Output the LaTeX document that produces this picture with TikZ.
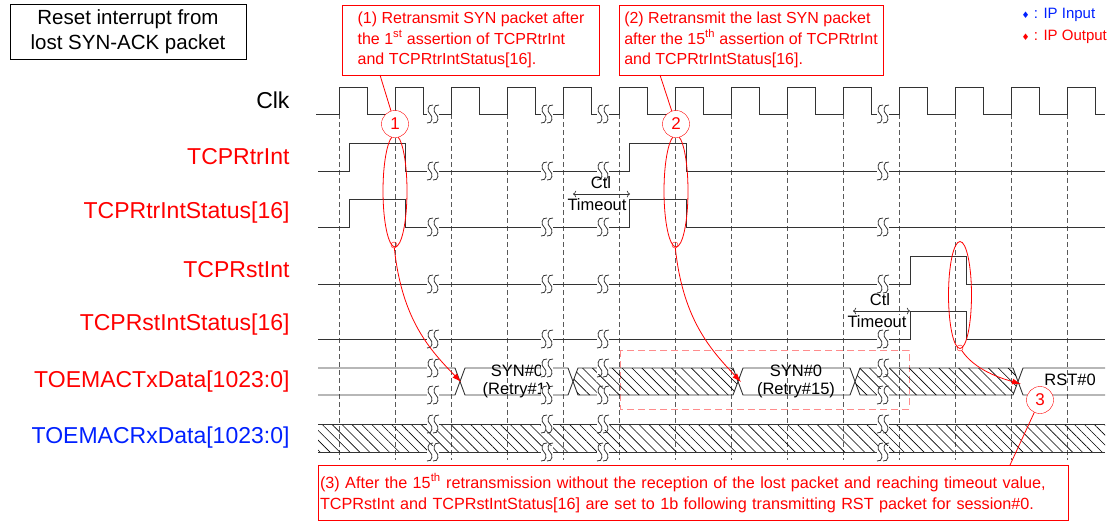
\documentclass[tikz,border=0pt]{standalone}
\usepackage{fontspec}
\setmainfont{Liberation Sans}
\newfontfamily\symfont{DejaVu Sans}
\usetikzlibrary{shapes.geometric,patterns.meta,arrows.meta}
\definecolor{sigred}{RGB}{255,0,0}
\definecolor{sigblue}{RGB}{0,32,255}
\tikzset{
  siglabel/.style={anchor=east,font=\fontsize{23}{25}\selectfont},
  wave/.style={draw=black!80,line width=0.9pt},
  guide/.style={draw=black!65,dashed,dash pattern=on 5pt off 3pt,line width=0.8pt},
  hatch/.style={pattern={Lines[angle=-45,distance=7pt,line width=0.6pt]}},
  callout/.style={draw=sigred,text=sigred,align=left,inner sep=5pt,font=\fontsize{16}{20.5}\selectfont},
  stepmark/.style={draw=sigred,circle,minimum size=27pt,inner sep=0pt,text=sigred,font=\fontsize{17}{17}\selectfont},
  ring/.style={draw=sigred,ellipse,inner sep=0pt,line width=0.8pt},
  dot/.style={draw=sigred,circle,minimum size=6pt,inner sep=0pt},
  annot/.style={draw=sigred,line width=0.8pt},
  bustext/.style={font=\fontsize{16.5}{18}\selectfont,align=center},
  brk/.pic={
    \fill[white] (-6,-6) rectangle (6,6);
    \foreach \o in {-3,3}
      \draw[black!80,line width=0.8pt] (\o+3,-9) .. controls (\o-3,-10) and (\o-3,-2) .. (\o,0)
        .. controls (\o+3,2) and (\o+3,10) .. (\o-3,9);
  }
}
\begin{document}
\begin{tikzpicture}[x=1pt,y=-1pt]
  \useasboundingbox (0,0) rectangle (1108,528);

  % title and legend
  \node[draw,align=center,inner sep=4pt,font=\fontsize{20.5}{25}\selectfont,minimum width=236pt,minimum height=55pt]
    (title) at (128,32) {Reset interrupt from\\lost SYN-ACK packet};
  \node[anchor=west,text=sigblue,font=\fontsize{15}{17}\selectfont] (legin) at (1018,15) {{\symfont\small ♦} : IP Input};
  \node[anchor=west,text=sigred,font=\fontsize{15}{17}\selectfont] (legout) at (1018,37) {{\symfont\small ♦} : IP Output};

  % signal names
  \node[siglabel] (clk) at (293,100) {Clk};
  \node[siglabel,text=sigred] (rtr) at (293,157) {TCPRtrInt};
  \node[siglabel,text=sigred] (rtrst) at (293,213) {TCPRtrIntStatus[16]};
  \node[siglabel,text=sigred] (rst) at (293,270) {TCPRstInt};
  \node[siglabel,text=sigred] (rstst) at (293,325) {TCPRstIntStatus[16]};
  \node[siglabel,text=sigred] (tx) at (293,382) {TOEMACTxData[1023:0]};
  \node[siglabel,text=sigblue] (rx) at (293,438) {TOEMACRxData[1023:0]};

  % guides on rising edges
  \foreach \k in {0,...,13}
    \draw[guide] (339+56*\k,114) -- (339+56*\k,460);

  % pink window
  \draw[draw=sigred!45,dashed,dash pattern=on 7pt off 4pt,line width=0.9pt] (620,350) rectangle (909,409);

  % clock
  \draw[wave] (316,114) \foreach \k in {0,...,13} {
      -- (339+56*\k,114) -- (339+56*\k,87) -- (367+56*\k,87) -- (367+56*\k,114) } -- (1105,114);

  % single-bit signals
  \draw[wave] (318,171) -- (349,171) -- (349,143) -- (405,143) -- (405,171) -- (629,171)
    -- (629,143) -- (686,143) -- (686,171) -- (1105,171);
  \draw[wave] (318,227) -- (349,227) -- (349,199) -- (405,199) -- (405,227) -- (629,227)
    -- (629,199) -- (686,199) -- (686,227) -- (1105,227);
  \draw[wave] (318,284) -- (910,284) -- (910,256) -- (966,256) -- (966,284) -- (1105,284);
  \draw[wave] (318,339) -- (910,339) -- (910,311) -- (966,311) -- (966,339) -- (1105,339);

  % tx bus
  \draw[wave] (318,368) -- (455,368) -- (465,395) -- (568,395) -- (578,368) -- (733,368)
    -- (743,395) -- (850,395) -- (860,368) -- (1013,368) -- (1023,395) -- (1105,395);
  \draw[wave] (318,395) -- (455,395) -- (465,368) -- (568,368) -- (578,395) -- (733,395)
    -- (743,368) -- (850,368) -- (860,395) -- (1013,395) -- (1023,368) -- (1105,368);
  \fill[hatch] (573,381.5) -- (578,368) -- (733,368) -- (738,381.5) -- (733,395) -- (578,395) -- cycle;
  \fill[hatch] (855,381.5) -- (860,368) -- (1013,368) -- (1018,381.5) -- (1013,395) -- (860,395) -- cycle;
  \node[bustext] (syn1) at (517,381) {SYN\#0\\(Retry\#1)};
  \node[bustext] (syn15) at (796,381) {SYN\#0\\(Retry\#15)};
  \node[bustext] (rst0) at (1070,380) {RST\#0};

  % rx bus
  \fill[hatch] (318,424) rectangle (1105,452);
  \draw[wave] (318,424) -- (1105,424) (318,452) -- (1105,452);

  % breaks
  \foreach \x in {433,547,603,883}
    \foreach \y in {114,171,227,284,339,368,395,424,452}
      \pic at (\x,\y) {brk};

  % timeouts
  \draw[black!80,<->,line width=0.7pt] (573,194) -- (630,194);
  \node[bustext] at (601,183) {Ctl};
  \node[bustext,fill=white,inner sep=1pt] at (597,205) {Timeout};
  \draw[black!80,<->,line width=0.7pt] (853,311) -- (910,311);
  \node[bustext] at (880,300) {Ctl};
  \node[bustext,fill=white,inner sep=1pt] at (877,322) {Timeout};

  % annotations
  \node[callout,minimum width=257pt,minimum height=70pt] (note1) at (471,40)
    {(1) Retransmit SYN packet after\\the 1\textsuperscript{st} assertion of TCPRtrInt\\and TCPRtrIntStatus[16].};
  \node[callout,minimum width=257pt,minimum height=70pt] (note2) at (751,40)
    {(2) Retransmit the last SYN packet\\after the 15\textsuperscript{th} assertion of TCPRtrInt\\and TCPRtrIntStatus[16].};
  \node[callout,font=\fontsize{16.2}{21}\selectfont,inner xsep=2pt,minimum width=750pt,minimum height=55pt,text width=746pt] (note3) at (693,493)
    {(3) After the 15\textsuperscript{th} retransmission without the reception of the lost packet and reaching timeout value,\\TCPRstInt and TCPRstIntStatus[16] are set to 1b following transmitting RST packet for session\#0.};

  \node[ring,minimum width=24pt,minimum height=112pt] (ring1) at (395,191) {};
  \node[ring,minimum width=24pt,minimum height=112pt] (ring2) at (676,191) {};
  \node[ring,minimum width=23pt,minimum height=107pt] (ring3) at (960,295) {};
  \node[stepmark,fill=white] (m1) at (395,124) {1};
  \node[stepmark,fill=white] (m2) at (676,124) {2};
  \node[stepmark,fill=white] (m3) at (1040,400) {3};
  \node[dot] (d1) at (394,245) {};
  \node[dot] (d2) at (675,245) {};
  \node[dot] (d3) at (960,348) {};
  \coordinate (t1) at (461,382);
  \coordinate (t2) at (741,382);
  \coordinate (t3) at (1021,384);

  \draw[annot] (m1) -- (380,75);
  \draw[annot] (m2) -- (660,75);
  \draw[annot] (m3) -- (1010,465);
  \draw[annot,-{Latex[length=9pt,width=6pt]}] (d1) .. controls (402,320) and (430,350) .. (t1);
  \draw[annot,-{Latex[length=9pt,width=6pt]}] (d2) .. controls (683,320) and (711,350) .. (t2);
  \draw[annot,-{Latex[length=9pt,width=6pt]}] (d3) .. controls (975,370) and (1000,378) .. (t3);
\end{tikzpicture}
\end{document}
